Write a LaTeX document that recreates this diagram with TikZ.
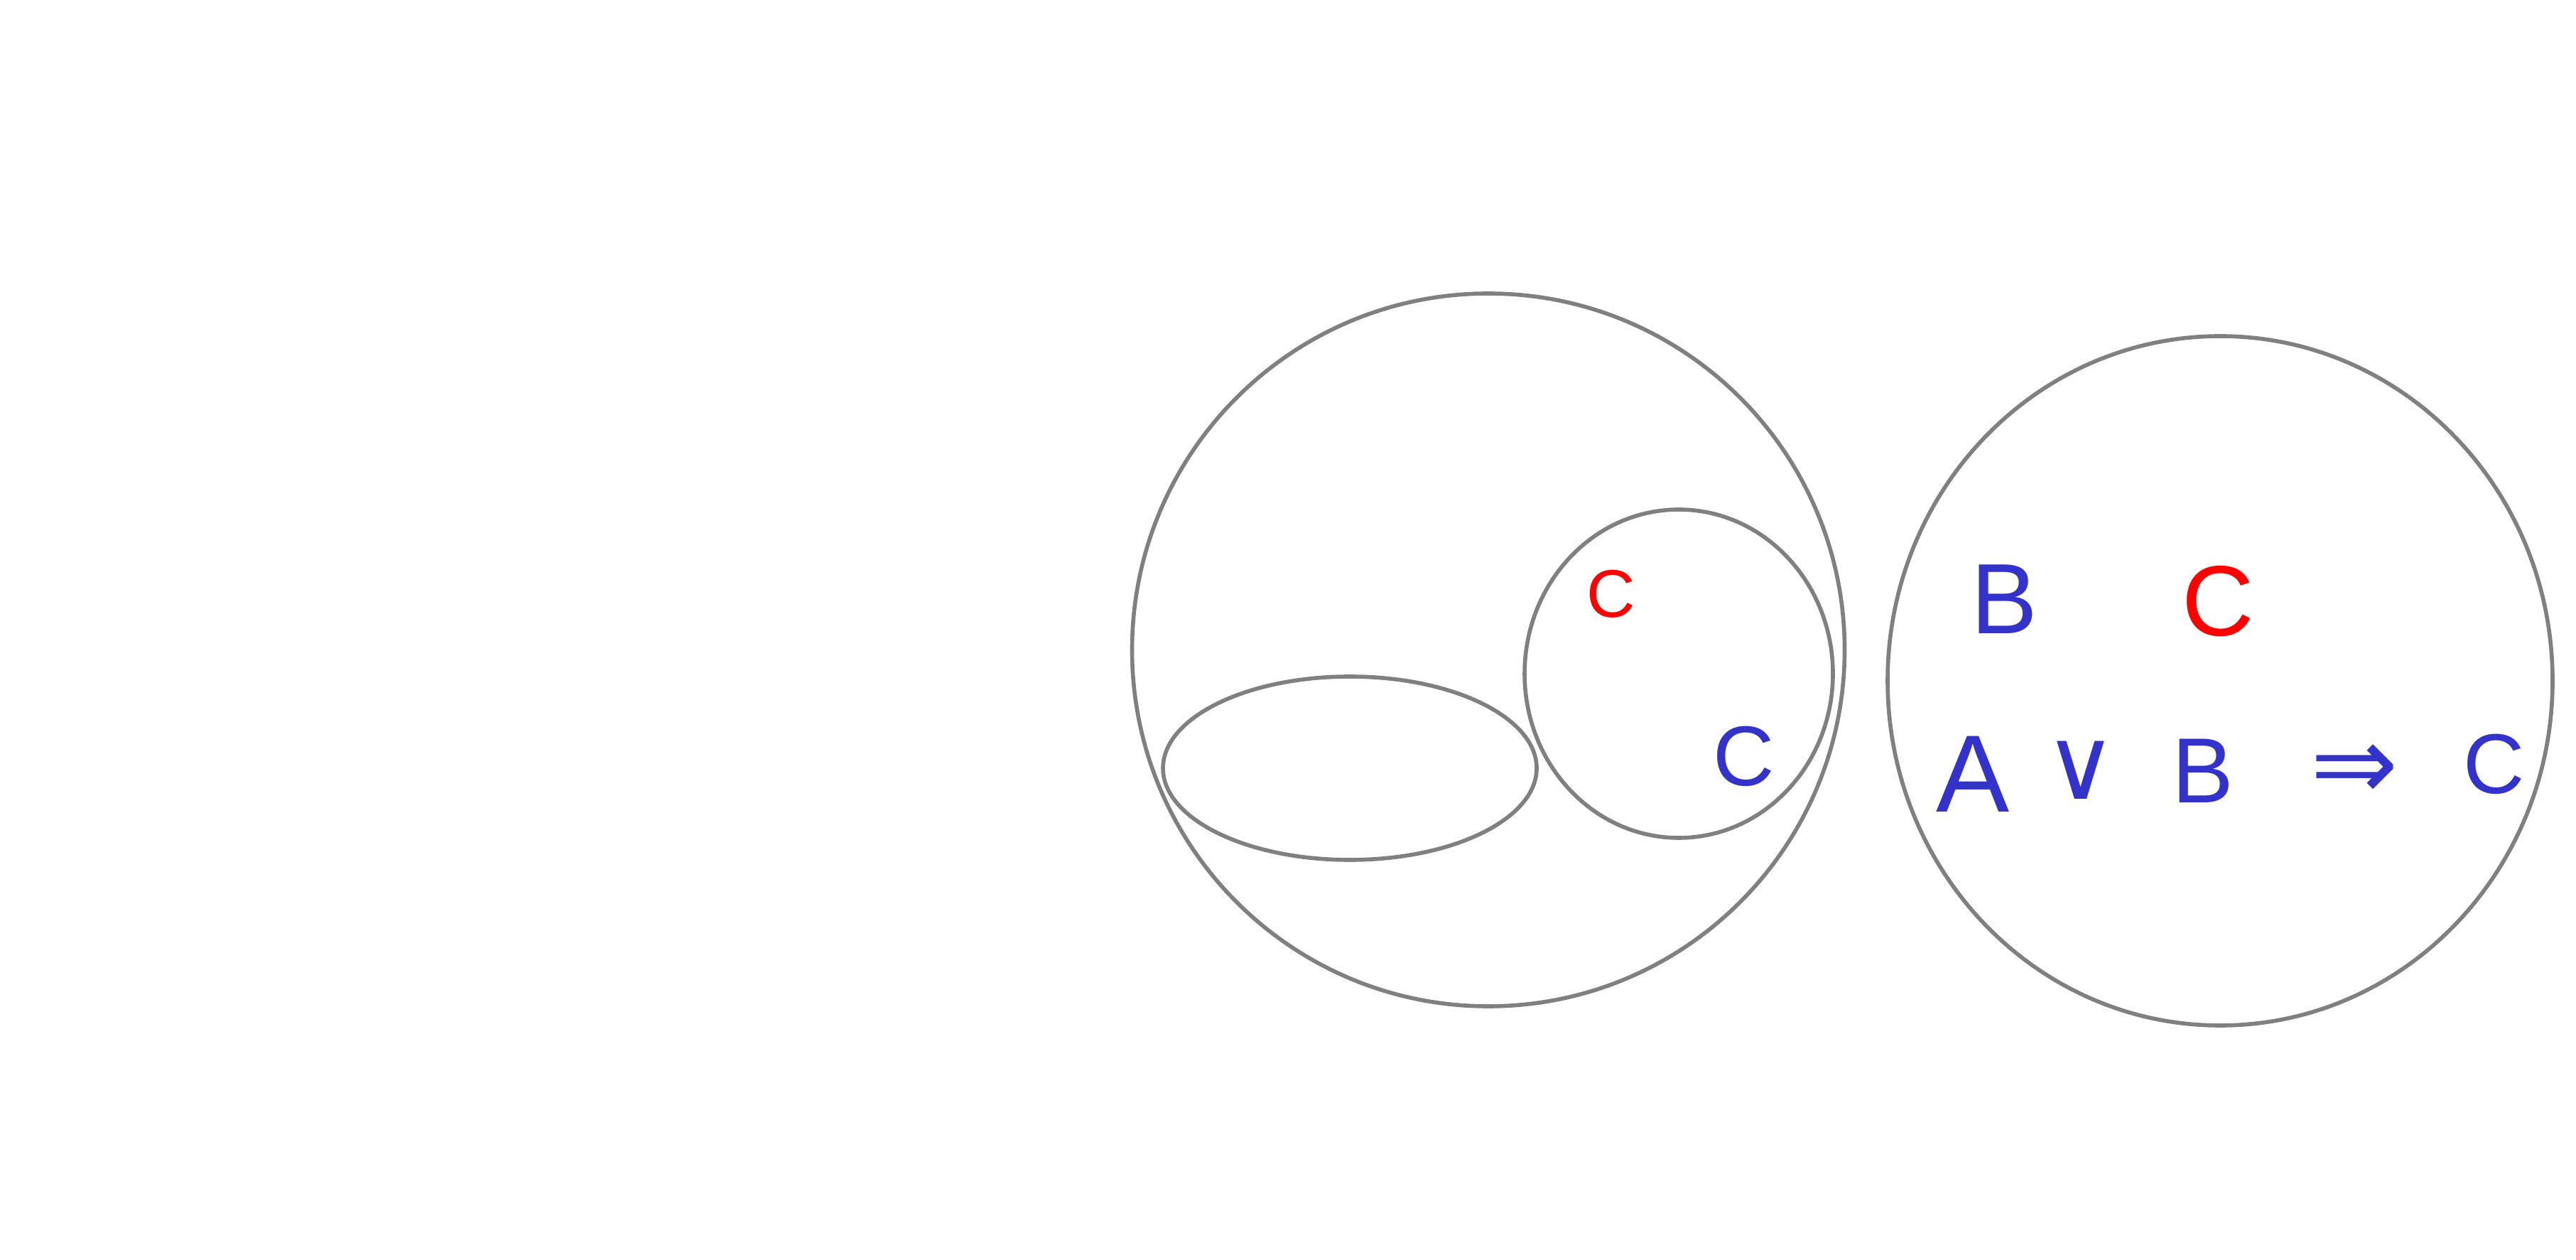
\documentclass[tikz,border=0pt]{standalone}
\usepackage{fontspec}
\setmainfont{Liberation Sans}
\newfontfamily\symfont{DejaVu Sans}
\usepackage{tikz}
\usetikzlibrary{positioning}
\usepackage{xcolor}
\definecolor{setGray}{RGB}{128,128,128}
\definecolor{inkBlue}{RGB}{51,51,204}
\definecolor{inkRed}{RGB}{255,0,0}

\begin{document}
\begin{tikzpicture}[
  setline/.style={draw=setGray, line width=1.6pt},
  ink/.style={
    inner sep=0pt, text=#1
  },
  sz/.style={font=\fontsize{#1}{#1}\selectfont}
]
  \useasboundingbox (0,0) rectangle (36.26,17.72);

  % Sets
  \draw[setline] (20.95,8.575) circle (5.015);
  \draw[setline] (19.00,6.91) ellipse (2.63 and 1.29);
  \draw[setline] (23.63,8.24) ellipse (2.17 and 2.31);
  \draw[setline] (31.25,8.14) ellipse (4.68 and 4.85);

  % Letters inside the left figure
  \node[ink=inkRed, sz=27]  (cRed)  at (22.68,9.36) {C};
  \node[ink=inkBlue, sz=34] (cBlue) at (24.55,7.08) {C};

  % Right circle
  \node[ink=inkBlue, sz=40] (topB) at (28.21,9.29) {B};
  \node[ink=inkRed, sz=40]  (topC) at (31.22,9.26) {C};

  \node[ink=inkBlue, sz=44] (fA)   at (27.77,6.83) {A};
  \node[ink=inkBlue, sz=40] (fOr)  at (29.29,6.88) {\symfont ∨};
  \node[ink=inkBlue, sz=37] (fB)   at (31.01,6.87) {B};
  \node[ink=inkBlue, sz=42] (fImp) at (33.14,6.85) {\symfont ⇒};
  \node[ink=inkBlue, sz=34] (fC)   at (35.11,6.97) {C};
\end{tikzpicture}
\end{document}
